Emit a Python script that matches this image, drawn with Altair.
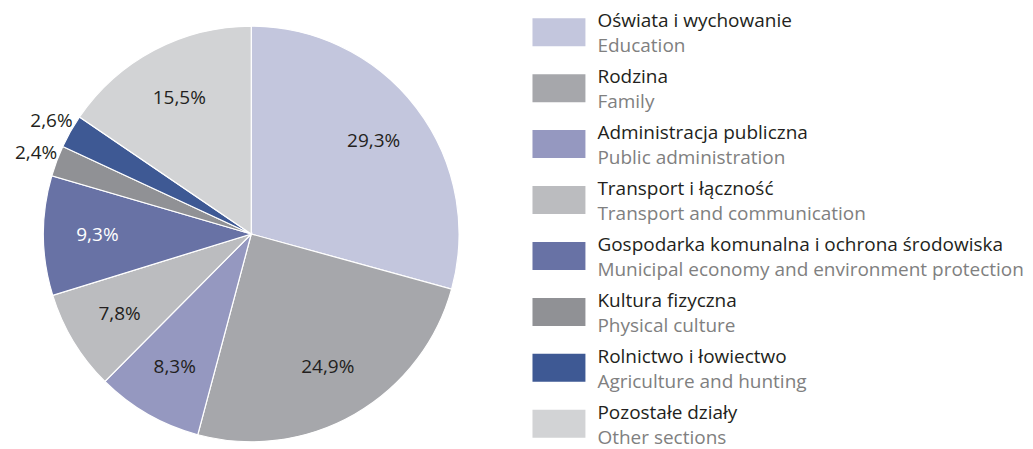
import altair as alt
import pandas as pd

pl_names = ["Oświata i wychowanie", "Rodzina", "Administracja publiczna", "Transport i łączność",
            "Gospodarka komunalna i ochrona środowiska", "Kultura fizyczna",
            "Rolnictwo i łowiectwo", "Pozostałe działy"]
en_names = ["Education", "Family", "Public administration", "Transport and communication",
            "Municipal economy and environment protection", "Physical culture",
            "Agriculture and hunting", "Other sections"]
values = [29.3, 24.9, 8.3, 7.8, 9.3, 2.4, 2.6, 15.5]
labels = ["29,3%", "24,9%", "8,3%", "7,8%", "9,3%", "2,4%", "2,6%", "15,5%"]
colors = ["#c3c6dd", "#a6a7ab", "#9598c0", "#bbbcbf", "#6872a5", "#909195", "#3e5994", "#d2d3d5"]
label_colors = ["#231f20", "#231f20", "#231f20", "#231f20", "#ffffff", "#231f20", "#231f20", "#231f20"]

df = pd.DataFrame({
    "idx": list(range(len(values))),
    "pl": pl_names,
    "en": en_names,
    "value": values,
    "label": labels,
    "lcolor": label_colors,
})

FONT = "Open Sans"
color_scale = alt.Scale(domain=pl_names, range=colors)

base = alt.Chart(df).encode(
    theta=alt.Theta("value:Q", stack=True),
    order=alt.Order("idx:Q"),
    x=alt.value(243.5),
    y=alt.value(217),
)

arcs = base.mark_arc(outerRadius=208, stroke="white", strokeWidth=1.2).encode(
    color=alt.Color("pl:N", scale=color_scale, legend=None)
)

inside = base.mark_text(radius=154, font=FONT, fontSize=19).encode(
    text=alt.condition("datum.value > 5", "label:N", alt.value("")),
    color=alt.Color("lcolor:N", scale=None),
)

outside = base.mark_text(radius=230, font=FONT, fontSize=19).encode(
    text=alt.condition("datum.value <= 5", "label:N", alt.value("")),
    color=alt.Color("lcolor:N", scale=None),
)

pie = alt.layer(arcs, inside, outside).properties(width=487, height=429)

ybase = alt.Chart(df).encode(
    y=alt.Y("idx:Q", scale=alt.Scale(domain=[-0.268, 7.393], reverse=True, nice=False, zero=False), axis=None)
)

swatches = ybase.mark_rect(width=53, height=28).encode(
    x=alt.value(26.5),
    color=alt.Color("pl:N", scale=color_scale, legend=None),
)
pl_text = ybase.mark_text(align="left", baseline="alphabetic", dy=-5, font=FONT,
                          fontSize=19, color="#231f20").encode(x=alt.value(65), text="pl:N")
en_text = ybase.mark_text(align="left", baseline="alphabetic", dy=20, font=FONT,
                          fontSize=19, color="#808080").encode(x=alt.value(65), text="en:N")

legend = alt.layer(swatches, pl_text, en_text).properties(width=440, height=429)

chart = alt.hconcat(pie, legend, spacing=38).properties(
    padding={"top": 4, "left": 0, "right": 0, "bottom": 0}
).configure_view(stroke=None)

chart.save("out.html", embed_options={"renderer": "svg", "actions": False})
